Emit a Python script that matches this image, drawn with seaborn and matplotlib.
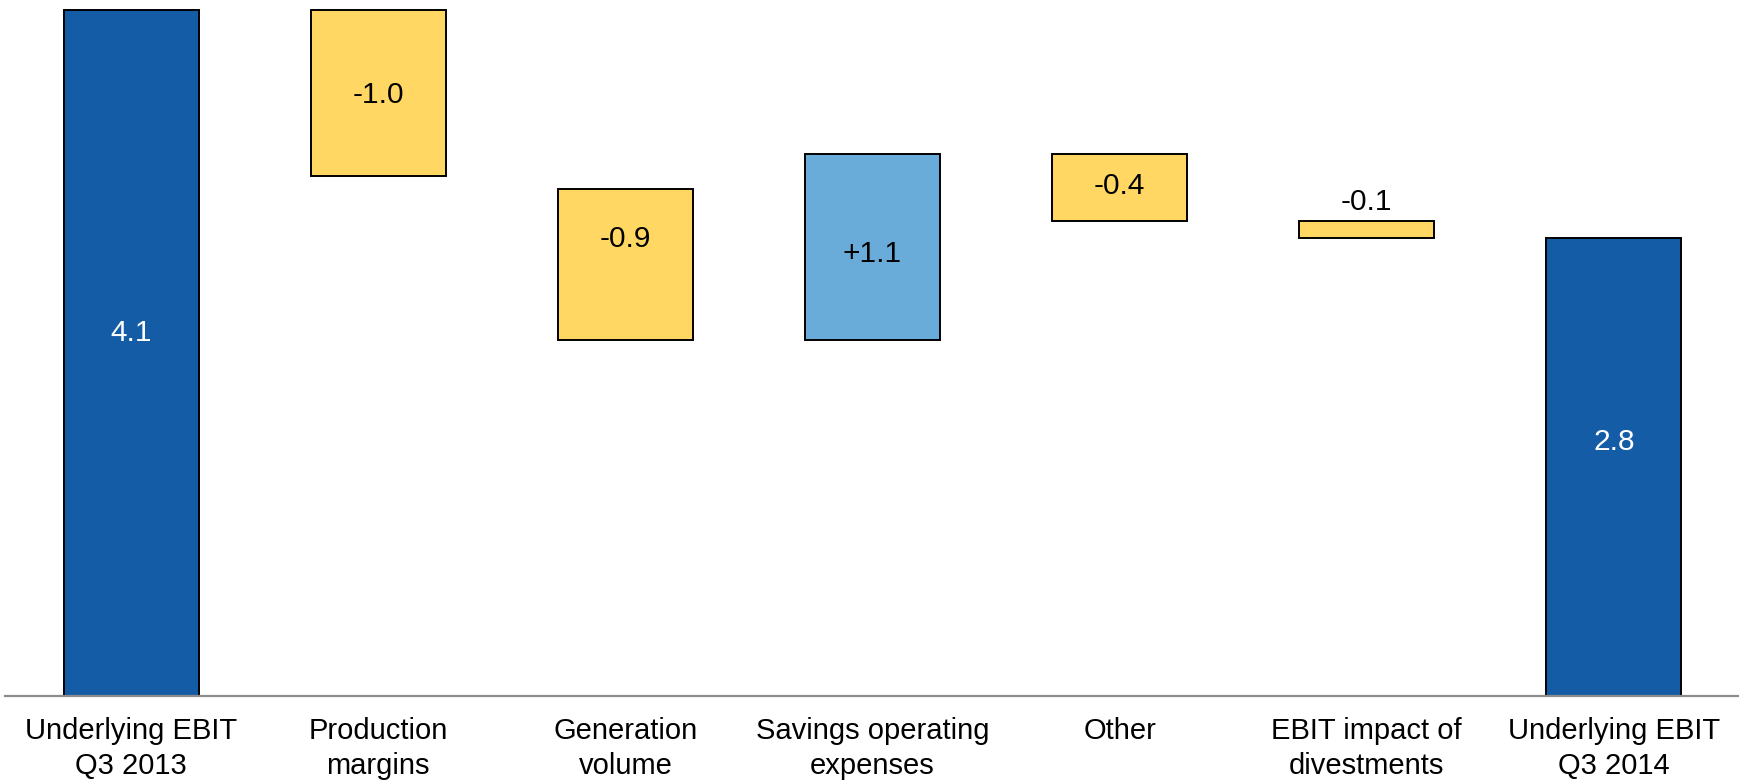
import matplotlib
matplotlib.use("Agg")
import matplotlib.pyplot as plt
import seaborn as sns
import numpy as np

# ---- data (EBIT bridge) ----
categories = ["Underlying EBIT\nQ3 2013", "Production\nmargins", "Generation\nvolume",
              "Savings operating\nexpenses", "Other", "EBIT impact of\ndivestments",
              "Underlying EBIT\nQ3 2014"]
bar_bottoms = [0.0, 3.11, 2.13, 2.13, 2.84, 2.74, 0.0]
bar_tops = [4.10, 4.10, 3.03, 3.24, 3.24, 2.84, 2.74]
value_labels = ["4.1", "-1.0", "-0.9", "+1.1", "-0.4", "-0.1", "2.8"]
bar_kind = ["total", "neg", "neg", "pos", "neg", "neg", "total"]

# label placement (data units) and styles
label_y = [2.17, 3.59, 2.73, 2.64, 3.05, 2.95, 1.52]
kind_colors = {"total": "#155CA6", "neg": "#FFD762", "pos": "#69ACDA"}
label_colors = {"total": "white", "neg": "black", "pos": "black"}

sns.set_style("white")
plt.rcParams["font.family"] = ["Liberation Sans", "DejaVu Sans"]

fig = plt.figure(figsize=(17.4, 7.81), dpi=100)
ax = fig.add_axes([5 / 1740, 85 / 781, 1735 / 1740, 686 / 781 + 10 / 781])

heights = np.array(bar_tops) - np.array(bar_bottoms)
sns.barplot(x=categories, y=heights, bottom=bar_bottoms, order=categories,
            color="#155CA6", width=0.546, edgecolor="black", linewidth=1.4,
            saturation=1, ax=ax)

for patch, kind in zip(ax.patches, bar_kind):
    patch.set_facecolor(kind_colors[kind])

for i, (txt, y, kind) in enumerate(zip(value_labels, label_y, bar_kind)):
    ax.text(i, y, txt, ha="center", va="center", fontsize=21.5,
            color=label_colors[kind])

ax.set_xlim(-0.51, 6.51)
ax.set_ylim(0, 4.16)
ax.set_yticks([])
ax.set_ylabel("")
ax.set_xlabel("")
for s in ["top", "left", "right"]:
    ax.spines[s].set_visible(False)
ax.spines["bottom"].set_color("#8C8C8C")
ax.spines["bottom"].set_linewidth(1.6)
ax.tick_params(axis="x", length=0, pad=15, labelsize=21, colors="black")
for lbl in ax.get_xticklabels():
    lbl.set_linespacing(1.32)

fig.savefig("out.png", dpi=100)
